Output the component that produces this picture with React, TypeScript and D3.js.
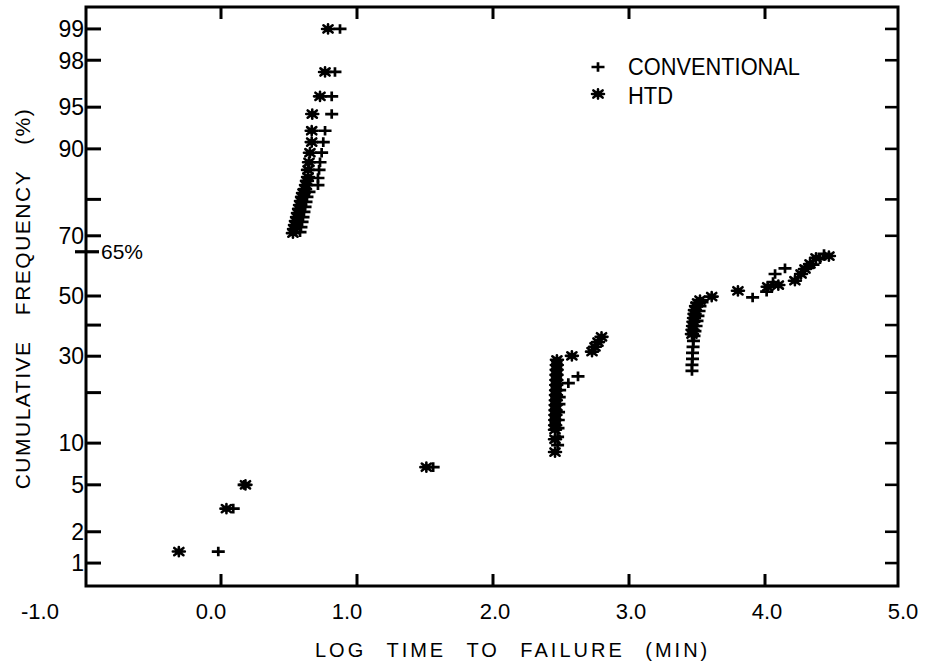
import React from "react";
import * as d3 from "d3";

// ---------- data ----------
const xTicks = [-1, 0, 1, 2, 3, 4, 5];
const xTickLabels = ["-1.0", "0.0", "1.0", "2.0", "3.0", "4.0", "5.0"];
const yTicks = [1, 2, 5, 10, 20, 30, 40, 50, 70, 80, 90, 95, 98, 99];
const yTickLabels = ["1", "2", "5", "10", "", "30", "", "50", "70", "", "90", "95", "98", "99"];
const markPct = 65;
const markLabel = "65%";

// Conventional (+): log time to failure (min), cumulative frequency (%)
const convLogT = [
  -0.02, 0.09, 0.17, 1.56,
  2.475, 2.475, 2.478, 2.48, 2.482, 2.485, 2.487, 2.49, 2.554, 2.625,
  3.463, 3.463, 3.467, 3.467, 3.471, 3.474, 3.478, 3.485, 3.493, 3.5, 3.507, 3.515, 3.522, 3.537,
  3.909, 4.012, 4.059, 4.074, 4.147, 4.31, 4.353, 4.404, 4.434,
  0.581, 0.588, 0.596, 0.603, 0.61, 0.618, 0.625, 0.632, 0.647,
  0.713, 0.713, 0.721, 0.728, 0.74, 0.752, 0.765, 0.814, 0.814, 0.838, 0.875,
];
const convPct = [
  1.3, 3.2, 5.0, 6.8,
  9.7, 11.0, 12.5, 14.0, 15.6, 17.3, 18.9, 20.6, 22.4, 24.2,
  25.7, 27.4, 29.2, 31.0, 32.9, 34.8, 36.4, 38.0, 39.7, 41.4, 43.1, 44.8, 46.5, 47.9,
  49.5, 51.5, 54.8, 57.6, 59.5, 60.0, 60.8, 62.6, 64.3,
  71.1, 72.6, 74.1, 75.4, 76.8, 78.1, 79.4, 80.6, 81.8,
  83.3, 84.8, 86.4, 87.8, 89.4, 91.0, 92.5, 94.35, 95.9, 97.45, 99.0,
];

// HTD (*)
const htdLogT = [
  -0.31, 0.04, 0.18, 1.51,
  2.456, 2.456, 2.456, 2.457, 2.458, 2.459, 2.46, 2.461, 2.462, 2.463, 2.464, 2.465, 2.466, 2.467, 2.468, 2.469, 2.47,
  2.58, 2.728, 2.75, 2.772, 2.798,
  3.463, 3.467, 3.471, 3.474, 3.478, 3.482, 3.485, 3.493, 3.504, 3.522,
  3.608, 3.801, 4.02, 4.098, 4.22, 4.265, 4.294, 4.331, 4.375, 4.47,
  0.529, 0.537, 0.544, 0.551, 0.559, 0.566, 0.574, 0.581, 0.588, 0.596, 0.603, 0.618, 0.625, 0.632, 0.64,
  0.64, 0.647, 0.654, 0.667, 0.667, 0.671, 0.728, 0.765, 0.787,
];
const htdPct = [
  1.3, 3.2, 5.0, 6.8,
  8.7, 10.6, 12.2, 13.0, 14.0, 15.0, 16.0, 17.1, 18.2, 19.4, 20.6, 21.9, 23.2, 24.6, 26.0, 27.4, 28.9,
  30.1, 31.4, 32.9, 34.4, 36.1,
  37.0, 38.4, 39.7, 41.1, 42.4, 43.8, 45.1, 46.5, 47.6, 48.6,
  49.8, 51.8, 53.2, 53.8, 55.3, 57.6, 59.3, 61.0, 63.0, 63.6,
  70.8, 72.0, 73.2, 74.3, 75.4, 76.5, 77.6, 78.6, 79.6, 80.6, 81.5, 82.4, 83.3, 84.2, 85.0,
  86.4, 87.8, 89.4, 91.0, 92.5, 94.35, 95.9, 97.45, 99.0,
];

const legendLabels = ["CONVENTIONAL", "HTD"];
const xTitle = "LOG TIME TO FAILURE (MIN)";
const yTitle = "CUMULATIVE FREQUENCY (%)";

// ---------- helpers ----------
function probit(p: number): number {
  const a = [-3.969683028665376e1, 2.209460984245205e2, -2.759285104469687e2, 1.38357751867269e2, -3.066479806614716e1, 2.506628277459239];
  const b = [-5.447609879822406e1, 1.615858368580409e2, -1.556989798598866e2, 6.680131188771972e1, -1.328068155288572e1];
  const c = [-7.784894002430293e-3, -3.223964580411365e-1, -2.400758277161838, -2.549732539343734, 4.374664141464968, 2.938163982698783];
  const d = [7.784695709041462e-3, 3.224671290700398e-1, 2.445134137142996, 3.754408661907416];
  const pl = 0.02425;
  let q: number, r: number;
  if (p < pl) {
    q = Math.sqrt(-2 * Math.log(p));
    return (((((c[0] * q + c[1]) * q + c[2]) * q + c[3]) * q + c[4]) * q + c[5]) / ((((d[0] * q + d[1]) * q + d[2]) * q + d[3]) * q + 1);
  }
  if (p <= 1 - pl) {
    q = p - 0.5;
    r = q * q;
    return ((((((a[0] * r + a[1]) * r + a[2]) * r + a[3]) * r + a[4]) * r + a[5]) * q) / (((((b[0] * r + b[1]) * r + b[2]) * r + b[3]) * r + b[4]) * r + 1);
  }
  q = Math.sqrt(-2 * Math.log(1 - p));
  return -(((((c[0] * q + c[1]) * q + c[2]) * q + c[3]) * q + c[4]) * q + c[5]) / ((((d[0] * q + d[1]) * q + d[2]) * q + d[3]) * q + 1);
}

const W = 929;
const H = 664;
const frame = { left: 86, right: 898, top: 7, bottom: 586 };
const FONT = "'Liberation Sans', Arial, Helvetica, sans-serif";

const x = d3.scaleLinear().domain([-1, 5]).range([85, 901]);
const z = d3.scaleLinear().domain([-2.5, 2.5]).range([583, 9]);
const y = (pct: number) => z(probit(pct / 100));

const plusPath = "M-6.5,0H6.5M0,-4.8V4.8";
const starPath = "M-6,0H6M0,-4.6V4.6M-4.6,-3.6L4.6,3.6M-4.6,3.6L4.6,-3.6";

function Plus({ cx, cy }: { cx: number; cy: number }) {
  return <path d={plusPath} transform={`translate(${cx},${cy})`} stroke="#000" strokeWidth={2.7} fill="none" />;
}
function Star({ cx, cy }: { cx: number; cy: number }) {
  return (
    <g transform={`translate(${cx},${cy})`}>
      <ellipse rx={3.6} ry={3} fill="#000" />
      <path d={starPath} stroke="#000" strokeWidth={2.6} fill="none" strokeLinecap="round" />
    </g>
  );
}

const labelNudge = (v: number) => (v === -1 ? -45 : v < 2 ? -10 : 2);

export default function App() {
  const conv = convLogT.map((t, i) => [t, convPct[i]]);
  const htd = htdLogT.map((t, i) => [t, htdPct[i]]);
  return (
    <svg width={W} height={H} style={{ position: "absolute", left: 0, top: 0, background: "#fff" }} fontFamily={FONT}>
      <rect x={0} y={0} width={W} height={H} fill="#fff" />
      {/* frame */}
      <rect
        x={frame.left}
        y={frame.top}
        width={frame.right - frame.left}
        height={frame.bottom - frame.top}
        fill="none"
        stroke="#000"
        strokeWidth={3}
      />
      {/* y ticks left & right */}
      {yTicks.map((p, i) => (
        <g key={"yt" + i}>
          <line x1={frame.left} x2={frame.left + 15} y1={y(p)} y2={y(p)} stroke="#000" strokeWidth={3} />
          <line x1={frame.right} x2={frame.right - 13} y1={y(p)} y2={y(p)} stroke="#000" strokeWidth={2.6} />
          {yTickLabels[i] && (
            <text x={84} y={y(p)} dy="0.36em" textAnchor="end" fontSize={23}>
              {yTickLabels[i]}
            </text>
          )}
        </g>
      ))}
      {/* 65% mark */}
      <line x1={frame.left - 11} x2={frame.left + 13} y1={y(markPct)} y2={y(markPct)} stroke="#000" strokeWidth={3.2} />
      <text x={frame.left + 15} y={y(markPct)} dy="0.36em" fontSize={21}>
        {markLabel}
      </text>
      {/* x ticks bottom & top */}
      {xTicks.map((v, i) => (
        <g key={"xt" + i}>
          {v > -1 && v < 5 && (
            <>
              <line x1={x(v)} x2={x(v)} y1={frame.bottom} y2={frame.bottom - 12} stroke="#000" strokeWidth={3} />
              <line x1={x(v)} x2={x(v)} y1={frame.top} y2={frame.top + 12} stroke="#000" strokeWidth={3} />
            </>
          )}
          <text x={x(v) + labelNudge(v)} y={619} textAnchor="middle" fontSize={22}>
            {xTickLabels[i]}
          </text>
        </g>
      ))}
      {/* data */}
      {conv.map((d, i) => (
        <Plus key={"c" + i} cx={x(d[0])} cy={y(d[1])} />
      ))}
      {htd.map((d, i) => (
        <Star key={"h" + i} cx={x(d[0])} cy={y(d[1])} />
      ))}
      {/* legend */}
      <Plus cx={598} cy={67} />
      <text x={628} y={75} fontSize={23} textLength={172} lengthAdjust="spacingAndGlyphs">
        {legendLabels[0]}
      </text>
      <Star cx={598} cy={94} />
      <text x={628} y={104} fontSize={23} textLength={45} lengthAdjust="spacingAndGlyphs">
        {legendLabels[1]}
      </text>
      {/* axis titles */}
      <text x={315} y={657} fontSize={20} letterSpacing={3} wordSpacing={12}>
        {xTitle}
      </text>
      <text
        transform="translate(30,298.5) rotate(-90)"
        textAnchor="middle"
        fontSize={21}
        letterSpacing={1.5}
        wordSpacing={18}
      >
        {yTitle}
      </text>
    </svg>
  );
}
